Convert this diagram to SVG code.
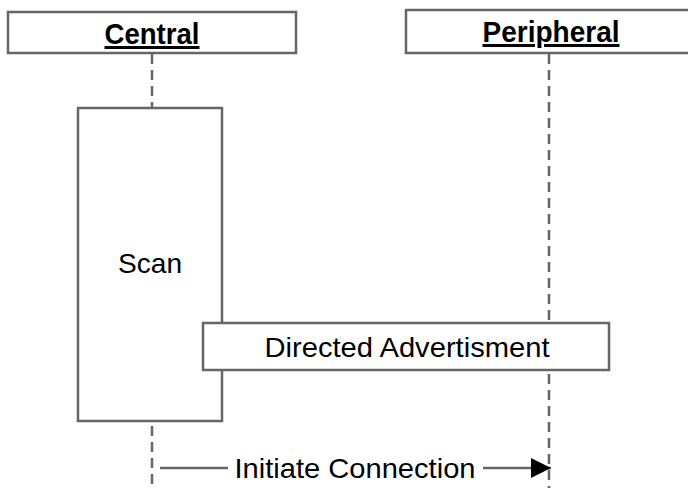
<svg xmlns="http://www.w3.org/2000/svg" width="688" height="488" viewBox="0 0 688 488">
  <defs>
    <style>
      .box { fill: #ffffff; stroke: #666666; stroke-width: 2.5; }
      .life { fill: none; stroke: #666666; stroke-width: 2.5; stroke-dasharray: 10 6; }
      .msg { fill: none; stroke: #666666; stroke-width: 2.5; }
      .lbl { font-family: "Liberation Sans", Arial, sans-serif; font-size: 28px; fill: #000000; text-anchor: middle; }
      .head { font-size: 30px; font-weight: bold; text-decoration: underline; }
    </style>
    <marker id="arrow" markerUnits="userSpaceOnUse" markerWidth="22" markerHeight="20" refX="20" refY="10" orient="auto">
      <path d="M0,0 L20,10 L0,20 Z" fill="#000000"/>
    </marker>
  </defs>

  <!-- lifelines and the message arrow -->
  <g id="connectors">
    <line class="life" x1="152" y1="54" x2="152" y2="108"/>
    <line class="life" x1="152" y1="426" x2="152" y2="488"/>
    <line class="life" x1="549" y1="54" x2="549" y2="488"/>
    <line class="msg" x1="160" y1="468" x2="228" y2="468"/>
    <line class="msg" x1="483" y1="468" x2="551" y2="468" marker-end="url(#arrow)"/>
    <text class="lbl" x="355" y="478" textLength="241" lengthAdjust="spacingAndGlyphs">Initiate Connection</text>
  </g>

  <g id="central">
    <rect class="box" x="8" y="12" width="288" height="41"/>
    <text class="lbl head" x="152" y="44" textLength="95" lengthAdjust="spacingAndGlyphs">Central</text>
  </g>

  <g id="peripheral">
    <rect class="box" x="406" y="10" width="290" height="43"/>
    <text class="lbl head" x="551" y="42" textLength="137" lengthAdjust="spacingAndGlyphs">Peripheral</text>
  </g>

  <g id="scan">
    <rect class="box" x="78" y="108" width="144" height="313"/>
    <text class="lbl" x="150" y="273" textLength="64" lengthAdjust="spacingAndGlyphs">Scan</text>
  </g>

  <g id="directed-advertisment">
    <rect class="box" x="203" y="323" width="406" height="47"/>
    <text class="lbl" x="407" y="357" textLength="285" lengthAdjust="spacingAndGlyphs">Directed Advertisment</text>
  </g>
</svg>
